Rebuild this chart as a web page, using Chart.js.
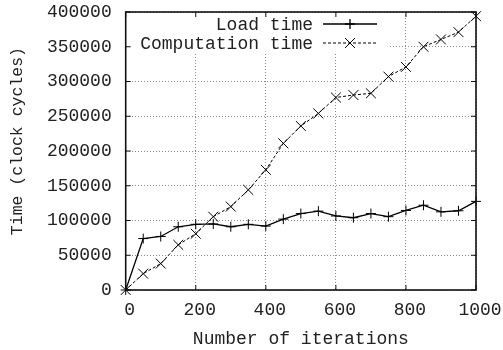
<!DOCTYPE html>
<html>
<head>
<meta charset="utf-8">
<script src="https://cdn.jsdelivr.net/npm/chart.js@4"></script>
<style>
  html, body { margin: 0; padding: 0; background: #fff; }
  #grafica { display: block; }
</style>
</head>
<body>
<canvas id="grafica" width="503" height="350"></canvas>
<script>
// --- Datos ---
const iteraciones = [0, 50, 100, 150, 200, 250, 300, 350, 400, 450, 500,
    550, 600, 650, 700, 750, 800, 850, 900, 950, 1000];
const tiempoCarga = [0, 74000, 77000, 91000, 94500, 95000, 91000, 94500, 92000, 102000, 110000,
    113500, 106500, 104000, 110000, 105500, 114500, 122000, 112500, 114000, 127500];
const tiempoComputo = [0, 23500, 38000, 65000, 81000, 105500, 120000, 144000, 173000, 211000, 236000,
    254000, 277000, 280500, 283000, 307000, 321000, 350000, 360500, 371000, 394000];
const nombresSeries = ["Load time", "Computation time"];
const ticksY = [0, 50000, 100000, 150000, 200000, 250000, 300000, 350000, 400000];
const ticksX = [0, 200, 400, 600, 800, 1000];

const fuente = "'Liberation Mono', 'Courier New', monospace";
const colorTexto = "#222";

const aPuntos = (valores) => iteraciones.map((x, i) => ({ x: x, y: valores[i] }));

// Leyenda y marco al estilo gnuplot
const marcoGnuplot = {
    id: "marcoGnuplot",
    beforeDatasetsDraw(chart) {
        const ctx = chart.ctx;
        ctx.save();
        ctx.fillStyle = "#fff";
        ctx.fillRect(127, 13, 261, 39);
        ctx.restore();
    },
    afterDraw(chart) {
        const ctx = chart.ctx;
        const { left, right, top, bottom } = chart.chartArea;
        const sx = chart.scales.x, sy = chart.scales.y;
        ctx.save();
        // marco
        ctx.strokeStyle = "#111";
        ctx.lineWidth = 1.6;
        ctx.strokeRect(left, top, right - left, bottom - top);
        // marcas hacia dentro
        ctx.lineWidth = 1;
        ctx.beginPath();
        ticksX.forEach(v => {
            const px = sx.getPixelForValue(v);
            ctx.moveTo(px, bottom); ctx.lineTo(px, bottom - 5);
            ctx.moveTo(px, top); ctx.lineTo(px, top + 5);
        });
        ticksY.forEach(v => {
            const py = sy.getPixelForValue(v);
            ctx.moveTo(left, py); ctx.lineTo(left + 5, py);
            ctx.moveTo(right, py); ctx.lineTo(right - 5, py);
        });
        ctx.stroke();

        // leyenda
        ctx.font = "18px " + fuente;
        ctx.fillStyle = colorTexto;
        ctx.textAlign = "right";
        ctx.textBaseline = "middle";
        const filas = [24, 43];
        chart.data.datasets.forEach((ds, i) => {
            const y = filas[i];
            ctx.fillText(nombresSeries[i], 313, y + 1);
            ctx.strokeStyle = "#000";
            ctx.lineWidth = ds.borderWidth;
            ctx.setLineDash(ds.borderDash || []);
            ctx.beginPath();
            ctx.moveTo(323, y); ctx.lineTo(377, y);
            ctx.stroke();
            ctx.setLineDash([]);
            Chart.helpers.drawPoint(ctx, {
                pointStyle: ds.pointStyle, radius: ds.pointRadius,
                borderWidth: 1, rotation: 0
            }, 350, y);
        });
        ctx.restore();
    }
};

const ctx = document.getElementById("grafica").getContext("2d");
new Chart(ctx, {
    type: "line",
    data: {
        datasets: [{
            label: nombresSeries[0],
            data: aPuntos(tiempoCarga),
            borderColor: "#000",
            backgroundColor: "#000",
            borderWidth: 1.3,
            pointStyle: "cross",
            pointRadius: 5,
            pointBorderWidth: 1,
            pointBorderColor: "#000",
            tension: 0,
            clip: false
        }, {
            label: nombresSeries[1],
            data: aPuntos(tiempoComputo),
            borderColor: "#000",
            backgroundColor: "#000",
            borderWidth: 1,
            borderDash: [3, 2],
            pointStyle: "crossRot",
            pointRadius: 7,
            pointBorderWidth: 1,
            pointBorderColor: "#000",
            tension: 0,
            clip: false
        }]
    },
    options: {
        responsive: false,
        animation: false,
        events: [],
        layout: { padding: { top: 12, right: 27, left: 0, bottom: 0 } },
        plugins: { legend: { display: false }, tooltip: { enabled: false } },
        scales: {
            x: {
                type: "linear",
                min: 0,
                max: 1000,
                afterBuildTicks: (s) => { s.ticks = ticksX.map(v => ({ value: v })); },
                afterFit: (s) => { s.height = 60; s.paddingLeft = 0; s.paddingRight = 0; },
                ticks: {
                    autoSkip: false, maxRotation: 0, padding: 9, labelOffset: 4,
                    color: colorTexto, font: { family: fuente, size: 18 },
                    callback: (v) => String(v)
                },
                grid: { color: "#8a8a8a", lineWidth: 1, drawTicks: false },
                border: { display: false, dash: [1, 2] },
                title: {
                    display: true, text: "Number of iterations", color: colorTexto,
                    font: { family: fuente, size: 18, lineHeight: 1.2 },
                    padding: { top: 0, bottom: 0 }
                }
            },
            y: {
                min: 0,
                max: 400000,
                afterBuildTicks: (s) => { s.ticks = ticksY.map(v => ({ value: v })); },
                afterFit: (s) => { s.width = 125.7; s.paddingTop = 0; s.paddingBottom = 0; },
                ticks: {
                    autoSkip: false, padding: 14,
                    color: colorTexto, font: { family: fuente, size: 18 },
                    callback: (v) => String(v)
                },
                grid: { color: "#8a8a8a", lineWidth: 1, drawTicks: false },
                border: { display: false, dash: [1, 2] },
                title: {
                    display: true, text: "  Time (clock cycles)", color: colorTexto,
                    font: { family: fuente, size: 16.5, lineHeight: 1.2 },
                    padding: { top: 8, bottom: 0 }
                }
            }
        }
    },
    plugins: [marcoGnuplot]
});
</script>
</body>
</html>
